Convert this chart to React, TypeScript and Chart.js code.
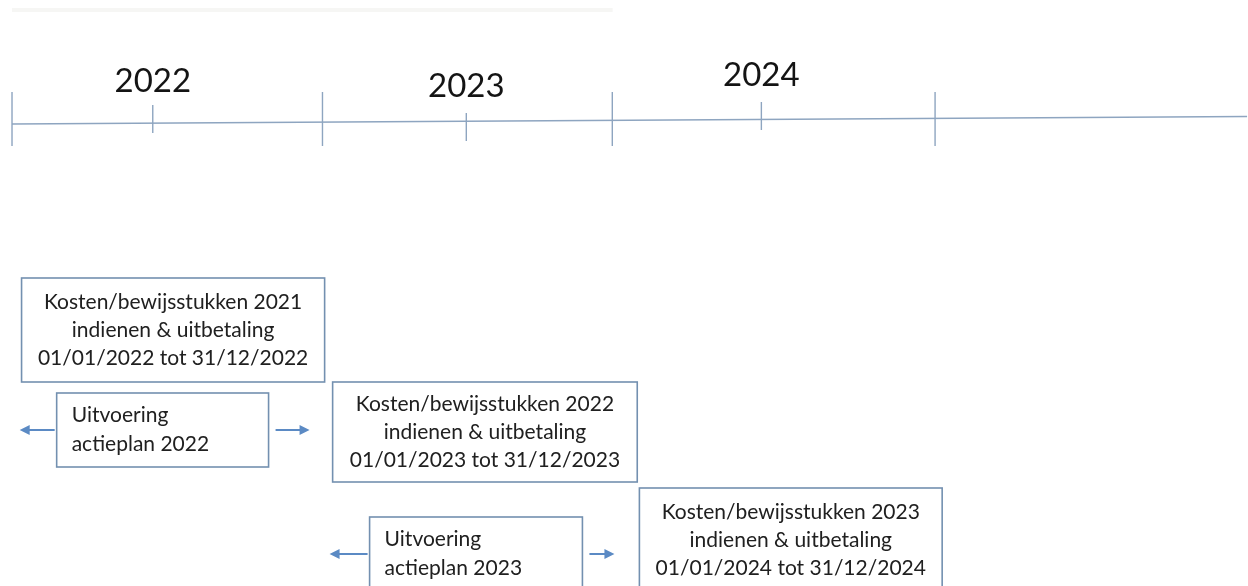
import React, { useEffect, useRef } from 'react';
import { Chart, registerables } from 'chart.js';

Chart.register(...registerables);

// ---- Data (time positions in years) ----
const yearLabels = ['2022', '2023', '2024'];
const yearMidpoints = [2022.457, 2023.475, 2024.433];
const yearBoundaries = [2022.0, 2023.008, 2023.949, 2024.997];
const timelineStart = 2022.0;
const timelineEnd = 2026.01;

const costTitles = ['Kosten/bewijsstukken 2021', 'Kosten/bewijsstukken 2022', 'Kosten/bewijsstukken 2023'];
const costActions = ['indienen & uitbetaling', 'indienen & uitbetaling', 'indienen & uitbetaling'];
const costPeriods = ['01/01/2022 tot 31/12/2022', '01/01/2023 tot 31/12/2023', '01/01/2024 tot 31/12/2024'];
const costStart = [2022.031, 2023.041, 2024.037];
const costEnd = [2023.015, 2024.03, 2025.02];

const planTitles = ['Uitvoering', 'Uitvoering'];
const planSubtitles = ['actieplan 2022', 'actieplan 2023'];
const planStart = [2022.145, 2023.161];
const planEnd = [2022.833, 2023.852];
const planArrowFrom = [2022.025, 2023.031];
const planArrowTo = [2022.966, 2023.956];

// ---- Layout (vertical rows of the diagram, 0 = top) ----
const LAYOUT = {
  xMin: 2021.961,
  xMax: 2026.013,
  yMax: 586,
  timelineY: [124, 116.5],
  majorTick: [92, 146],
  minorTicks: [
    [105, 133],
    [113, 141],
    [102, 130],
  ],
  yearLabelY: [81, 86, 75],
  costBoxes: [
    [278, 382],
    [382, 482],
    [488, 592],
  ],
  planBoxes: [
    [393, 467],
    [517, 591],
  ],
  lineGap: 28,
  planLineGap: 29,
  planTextInset: 15,
};

const AXIS_COLOR = '#8ea5c0';
const BOX_COLOR = '#7390b0';
const ARROW_COLOR = '#5b8ac4';
const TEXT_COLOR = '#202020';
const FONT = 'Lato, "Open Sans", "DejaVu Sans", sans-serif';

const diagramPlugin = {
  id: 'diagram',
  afterDatasetsDraw(chart: any) {
    const { ctx } = chart;
    const xs = chart.scales.x;
    const ys = chart.scales.y;
    const px = (v: number) => xs.getPixelForValue(v);
    const py = (v: number) => ys.getPixelForValue(v);
    ctx.save();

    // year labels
    ctx.fillStyle = '#141414';
    ctx.font = `33px ${FONT}`;
    ctx.textAlign = 'center';
    ctx.textBaseline = 'middle';
    yearLabels.forEach((lab, i) => {
      ctx.fillText(lab, px(yearMidpoints[i]), py(LAYOUT.yearLabelY[i]));
    });

    // cost boxes
    costTitles.forEach((title, i) => {
      const [t, b] = LAYOUT.costBoxes[i];
      const x0 = px(costStart[i]);
      const x1 = px(costEnd[i]);
      const y0 = py(t);
      const y1 = py(b);
      ctx.fillStyle = '#ffffff';
      ctx.fillRect(x0, y0, x1 - x0, y1 - y0);
      ctx.strokeStyle = BOX_COLOR;
      ctx.lineWidth = 1.6;
      ctx.strokeRect(x0, y0, x1 - x0, y1 - y0);
      const cx = (x0 + x1) / 2;
      const cy = (y0 + y1) / 2;
      ctx.fillStyle = TEXT_COLOR;
      ctx.font = `21px ${FONT}`;
      ctx.textAlign = 'center';
      ctx.textBaseline = 'middle';
      const g = LAYOUT.lineGap;
      ctx.fillText(title, cx, cy - g);
      ctx.fillText(costActions[i], cx, cy);
      ctx.fillText(costPeriods[i], cx, cy + g);
    });

    // plan boxes with arrows
    planTitles.forEach((title, i) => {
      const [t, b] = LAYOUT.planBoxes[i];
      const x0 = px(planStart[i]);
      const x1 = px(planEnd[i]);
      const y0 = py(t);
      const y1 = py(b);
      const cy = (y0 + y1) / 2;
      ctx.fillStyle = '#ffffff';
      ctx.fillRect(x0, y0, x1 - x0, y1 - y0);
      ctx.strokeStyle = BOX_COLOR;
      ctx.lineWidth = 1.6;
      ctx.strokeRect(x0, y0, x1 - x0, y1 - y0);
      ctx.fillStyle = TEXT_COLOR;
      ctx.font = `21px ${FONT}`;
      ctx.textAlign = 'left';
      ctx.textBaseline = 'middle';
      const g = LAYOUT.planLineGap / 2;
      ctx.fillText(title, x0 + LAYOUT.planTextInset, cy - g);
      ctx.fillText(planSubtitles[i], x0 + LAYOUT.planTextInset, cy + g);

      // arrows
      const drawArrow = (from: number, to: number) => {
        const dir = Math.sign(to - from);
        ctx.strokeStyle = ARROW_COLOR;
        ctx.lineWidth = 2;
        ctx.beginPath();
        ctx.moveTo(from, cy);
        ctx.lineTo(to - dir * 8, cy);
        ctx.stroke();
        ctx.fillStyle = ARROW_COLOR;
        ctx.beginPath();
        ctx.moveTo(to, cy);
        ctx.lineTo(to - dir * 10, cy - 5);
        ctx.lineTo(to - dir * 10, cy + 5);
        ctx.closePath();
        ctx.fill();
      };
      drawArrow(x0 - 2, px(planArrowFrom[i]));
      drawArrow(x1 + 7, px(planArrowTo[i]));
    });

    ctx.restore();
  },
};

export default function App() {
  const canvasRef = useRef<HTMLCanvasElement | null>(null);

  useEffect(() => {
    document.body.style.margin = '0';
    const canvas = canvasRef.current;
    if (!canvas) return;

    const datasets: any[] = [];
    // faint scan remnant at top
    datasets.push({
      data: [
        { x: 2022.0, y: 10 },
        { x: 2023.95, y: 10 },
      ],
      borderColor: 'rgba(240,240,236,0.6)',
      borderWidth: 4,
      showLine: true,
      pointRadius: 0,
    });
    // main timeline
    datasets.push({
      data: [
        { x: timelineStart, y: LAYOUT.timelineY[0] },
        { x: timelineEnd, y: LAYOUT.timelineY[1] },
      ],
      borderColor: AXIS_COLOR,
      borderWidth: 1.6,
      showLine: true,
      pointRadius: 0,
    });
    yearBoundaries.forEach((b) => {
      datasets.push({
        data: [
          { x: b, y: LAYOUT.majorTick[0] },
          { x: b, y: LAYOUT.majorTick[1] },
        ],
        borderColor: AXIS_COLOR,
        borderWidth: 1.4,
        showLine: true,
        pointRadius: 0,
      });
    });
    yearMidpoints.forEach((m, i) => {
      datasets.push({
        data: [
          { x: m, y: LAYOUT.minorTicks[i][0] },
          { x: m, y: LAYOUT.minorTicks[i][1] },
        ],
        borderColor: AXIS_COLOR,
        borderWidth: 1.4,
        showLine: true,
        pointRadius: 0,
      });
    });

    const chart = new Chart(canvas, {
      type: 'scatter',
      data: { datasets },
      options: {
        animation: false,
        responsive: true,
        maintainAspectRatio: false,
        layout: { padding: 0 },
        plugins: {
          legend: { display: false },
          tooltip: { enabled: false },
        },
        events: [],
        scales: {
          x: { type: 'linear', min: LAYOUT.xMin, max: LAYOUT.xMax, display: false },
          y: { type: 'linear', min: 0, max: LAYOUT.yMax, reverse: true, display: false },
        },
      },
      plugins: [diagramPlugin],
    });

    return () => chart.destroy();
  }, []);

  return (
    <div style={{ position: 'fixed', left: 0, top: 0, width: 1248, height: 586, background: '#ffffff' }}>
      <canvas ref={canvasRef} />
    </div>
  );
}
